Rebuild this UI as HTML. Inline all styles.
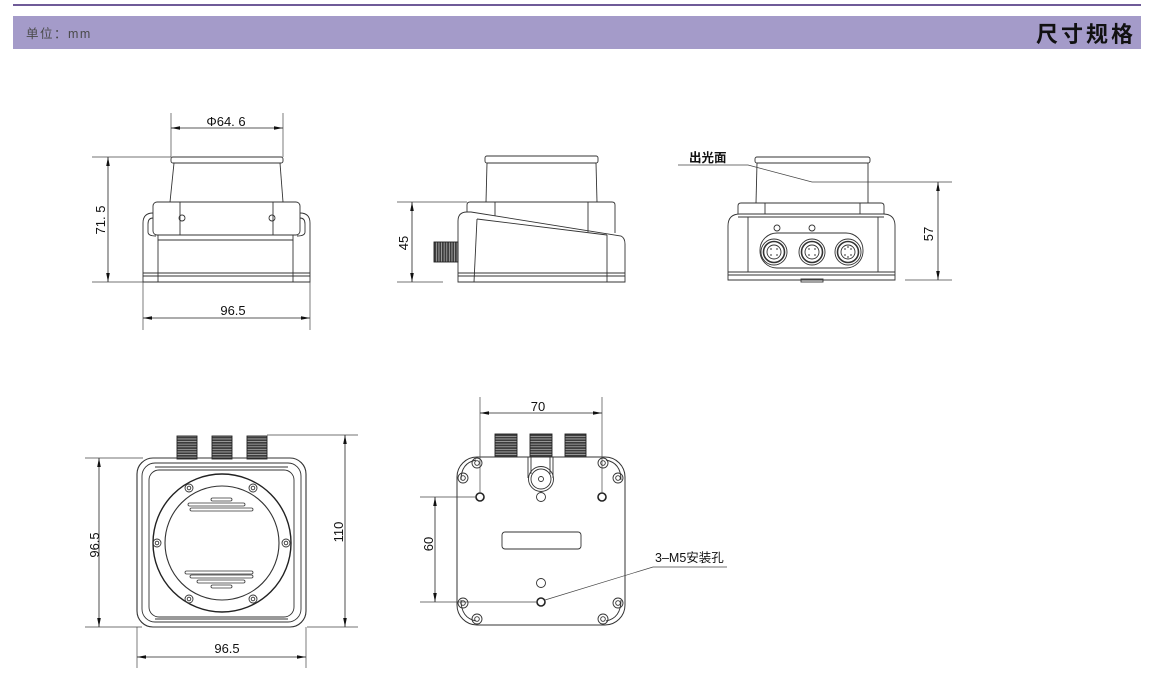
<!DOCTYPE html>
<html><head><meta charset="utf-8"><style>
html,body{margin:0;padding:0;background:#fff;}
svg{display:block;}
text{font-family:"Liberation Sans","Noto Sans CJK SC",sans-serif;}
</style></head><body>
<svg width="1151" height="678" viewBox="0 0 1151 678" xmlns="http://www.w3.org/2000/svg">
<defs>
<marker id="ar" viewBox="0 0 10 4" refX="10" refY="2" markerWidth="9" markerHeight="3.6" markerUnits="userSpaceOnUse" orient="auto-start-reverse">
<path d="M0,0 L10,2 L0,4 Z" fill="#111"/></marker>
<pattern id="thr" patternUnits="userSpaceOnUse" width="4" height="2.6">
<rect width="4" height="2.6" fill="#3c3c3c"/><rect y="1.8" width="4" height="0.7" fill="#bbb"/></pattern>
<pattern id="thrv" patternUnits="userSpaceOnUse" width="2.6" height="4">
<rect width="2.6" height="4" fill="#3c3c3c"/><rect x="1.8" width="0.7" height="4" fill="#bbb"/></pattern>
</defs>
<rect width="1151" height="678" fill="#fff"/>
<!-- header -->
<rect x="13" y="4" width="1128" height="2" fill="#6f5b98"/>
<rect x="13" y="16" width="1128" height="33" fill="#a49bc9"/>
<text x="26" y="38" font-size="12.5" fill="#4a4a4a" letter-spacing="1.5">单位：mm</text>
<text x="1136" y="42" font-size="22" font-weight="bold" fill="#111" text-anchor="end" letter-spacing="3">尺寸规格</text>

<g fill="none" stroke="#333" stroke-width="0.9">
<!-- ===== top-left view ===== -->
<rect x="171" y="157" width="112" height="6" rx="2"/>
<line x1="174" y1="163" x2="170" y2="202"/>
<line x1="280" y1="163" x2="283" y2="202"/>
<rect x="153" y="202" width="147" height="33" rx="4"/>
<line x1="180" y1="202" x2="180" y2="235"/>
<line x1="273" y1="202" x2="273" y2="235"/>
<circle cx="182" cy="218" r="3"/>
<circle cx="272" cy="218" r="3"/>
<path d="M153,213 Q143,213 143,223 V282 H310 V223 Q310,213 300,213"/>
<path d="M153,218 Q148,218 148,224 V232 Q148,236 156,236"/>
<path d="M300,218 Q305,218 305,224 V232 Q305,236 297,236"/>
<path d="M158,235 V240 H293 V235"/>
<line x1="158" y1="240" x2="158" y2="282"/>
<line x1="293" y1="240" x2="293" y2="282"/>
<line x1="143" y1="273" x2="310" y2="273"/>
<line x1="143" y1="276" x2="310" y2="276"/>

<!-- ===== top-middle view ===== -->
<rect x="485" y="156" width="113" height="7" rx="2"/>
<line x1="487" y1="163" x2="486" y2="202"/>
<line x1="596" y1="163" x2="597" y2="202"/>
<path d="M467,212 V205 Q467,202 470,202 H612 Q615,202 615,205 V233"/>
<line x1="495" y1="202" x2="495" y2="216"/>
<line x1="588" y1="202" x2="588" y2="232"/>
<path d="M458,282 V221 Q458,212 467,212 H471 L621,236 Q625,238 625,244 V282 Z"/>
<line x1="477" y1="219" x2="607" y2="235"/>
<line x1="477" y1="219" x2="474" y2="282"/>
<line x1="607" y1="235" x2="607" y2="282"/>
<line x1="458" y1="273" x2="625" y2="273"/>
<line x1="458" y1="276" x2="625" y2="276"/>
<rect x="434" y="242" width="24" height="20" fill="url(#thrv)" stroke="#222"/>

<!-- ===== top-right view ===== -->
<rect x="755" y="157" width="115" height="6" rx="2"/>
<line x1="757" y1="163" x2="756" y2="203"/>
<line x1="868" y1="163" x2="868" y2="203"/>
<path d="M738,214 V206 Q738,203 741,203 H881 Q884,203 884,206 V214"/>
<line x1="765" y1="203" x2="765" y2="214"/>
<line x1="860" y1="203" x2="860" y2="214"/>
<path d="M728,280 V226 Q728,214 740,214 H883 Q895,214 895,226 V280 Z"/>
<line x1="738" y1="217" x2="884" y2="217"/>
<line x1="748" y1="217" x2="748" y2="272"/>
<line x1="878" y1="217" x2="878" y2="272"/>
<circle cx="777" cy="228" r="3"/>
<circle cx="812" cy="228" r="3"/>
<rect x="760" y="233" width="103" height="35" rx="17"/>
<g>
<circle cx="774" cy="252" r="13"/><circle cx="774" cy="252" r="10.5" stroke-width="1.6"/><circle cx="774" cy="252" r="7"/>
<circle cx="812" cy="252" r="13"/><circle cx="812" cy="252" r="10.5" stroke-width="1.6"/><circle cx="812" cy="252" r="7"/>
<circle cx="848" cy="252" r="13"/><circle cx="848" cy="252" r="10.5" stroke-width="1.6"/><circle cx="848" cy="252" r="7"/>
</g>
<g fill="#555" stroke="none">
<circle cx="771" cy="249" r="0.9"/><circle cx="777" cy="249" r="0.9"/><circle cx="771" cy="255" r="0.9"/><circle cx="777" cy="255" r="0.9"/>
<circle cx="809" cy="249" r="0.9"/><circle cx="815" cy="249" r="0.9"/><circle cx="809" cy="255" r="0.9"/><circle cx="815" cy="255" r="0.9"/>
<circle cx="845" cy="249" r="0.9"/><circle cx="851" cy="249" r="0.9"/><circle cx="845" cy="255" r="0.9"/><circle cx="851" cy="255" r="0.9"/><circle cx="848" cy="247" r="0.9"/><circle cx="848" cy="257" r="0.9"/>
</g>
<line x1="728" y1="272" x2="895" y2="272"/>
<line x1="728" y1="275" x2="895" y2="275"/>
<rect x="801" y="279" width="22" height="3"/>

<!-- ===== bottom-left view ===== -->
<rect x="177" y="436" width="20" height="23" fill="url(#thr)" stroke="#222"/>
<rect x="212" y="436" width="20" height="23" fill="url(#thr)" stroke="#222"/>
<rect x="247" y="436" width="20" height="23" fill="url(#thr)" stroke="#222"/>
<rect x="137" y="458" width="169" height="169" rx="16" stroke-width="1.1"/>
<rect x="142" y="463" width="159" height="159" rx="13"/>
<rect x="149" y="470" width="145" height="147" rx="10"/>
<line x1="155" y1="467" x2="288" y2="467"/>
<line x1="155" y1="619" x2="288" y2="619"/>
<circle cx="222" cy="543" r="69" stroke-width="1.4" stroke="#222"/>
<circle cx="222" cy="543" r="57" stroke-width="1.1"/>
<g>
<circle cx="189" cy="488" r="4"/><circle cx="189" cy="488" r="1.8"/>
<circle cx="253" cy="488" r="4"/><circle cx="253" cy="488" r="1.8"/>
<circle cx="157" cy="543" r="4"/><circle cx="157" cy="543" r="1.8"/>
<circle cx="286" cy="543" r="4"/><circle cx="286" cy="543" r="1.8"/>
<circle cx="189" cy="599" r="4"/><circle cx="189" cy="599" r="1.8"/>
<circle cx="253" cy="599" r="4"/><circle cx="253" cy="599" r="1.8"/>
</g>
<g stroke-width="0.8">
<rect x="211" y="498" width="21" height="3" rx="1.5"/>
<rect x="188" y="503" width="57" height="3" rx="1.5"/>
<rect x="190" y="508" width="63" height="3" rx="1.5"/>
<rect x="185" y="571" width="68" height="3" rx="1.5"/>
<rect x="190" y="575" width="63" height="3" rx="1.5"/>
<rect x="197" y="580" width="48" height="3" rx="1.5"/>
<rect x="211" y="585" width="21" height="3" rx="1.5"/>
</g>

<!-- ===== bottom-middle view ===== -->
<rect x="495" y="434" width="22" height="23" fill="url(#thr)" stroke="#222"/>
<rect x="530" y="434" width="22" height="23" fill="url(#thr)" stroke="#222"/>
<rect x="565" y="434" width="21" height="23" fill="url(#thr)" stroke="#222"/>
<rect x="457" y="457" width="168" height="168" rx="20" stroke-width="1"/>
<path d="M461,480 Q461,463 476,460" />
<path d="M621,480 Q621,463 606,460" />
<path d="M461,600 Q461,618 476,621" />
<path d="M621,600 Q621,618 606,621" />
<g>
<circle cx="477" cy="463" r="5"/><circle cx="477" cy="463" r="2.3"/>
<circle cx="463" cy="478" r="5"/><circle cx="463" cy="478" r="2.3"/>
<circle cx="603" cy="463" r="5"/><circle cx="603" cy="463" r="2.3"/>
<circle cx="618" cy="478" r="5"/><circle cx="618" cy="478" r="2.3"/>
<circle cx="463" cy="603" r="5"/><circle cx="463" cy="603" r="2.3"/>
<circle cx="477" cy="619" r="5"/><circle cx="477" cy="619" r="2.3"/>
<circle cx="618" cy="603" r="5"/><circle cx="618" cy="603" r="2.3"/>
<circle cx="603" cy="619" r="5"/><circle cx="603" cy="619" r="2.3"/>
</g>
<g stroke-width="1.6" stroke="#222">
<circle cx="480" cy="497" r="4"/>
<circle cx="602" cy="497" r="4"/>
<circle cx="541" cy="602" r="4"/>
</g>
<circle cx="541" cy="497" r="4.5"/>
<circle cx="541" cy="583" r="4.5"/>
<path d="M528,457 V478 M553,457 V478 M531,457 V474 M550,457 V474"/>
<circle cx="541" cy="479" r="12.5"/>
<circle cx="541" cy="479" r="10"/>
<circle cx="541" cy="479" r="2.5"/>
<rect x="502" y="532" width="79" height="17" rx="3"/>
</g>

<!-- dimension lines -->
<g fill="none" stroke="#444" stroke-width="0.7">
<line x1="171" y1="113" x2="171" y2="157"/>
<line x1="283" y1="113" x2="283" y2="157"/>
<line x1="92" y1="157" x2="171" y2="157"/>
<line x1="92" y1="282" x2="143" y2="282"/>
<line x1="143" y1="282" x2="143" y2="330"/>
<line x1="310" y1="282" x2="310" y2="330"/>
<line x1="397" y1="202" x2="467" y2="202"/>
<line x1="397" y1="282" x2="443" y2="282"/>
<path d="M678,165 H748 L812,182 H952"/>
<line x1="905" y1="280" x2="952" y2="280"/>
<line x1="85" y1="458" x2="143" y2="458"/>
<line x1="85" y1="627" x2="142" y2="627"/>
<line x1="267" y1="435" x2="358" y2="435"/>
<line x1="307" y1="627" x2="358" y2="627"/>
<line x1="137" y1="627" x2="137" y2="668"/>
<line x1="306" y1="627" x2="306" y2="668"/>
<line x1="480" y1="397" x2="480" y2="493"/>
<line x1="602" y1="397" x2="602" y2="493"/>
<line x1="420" y1="497" x2="476" y2="497"/>
<line x1="420" y1="602" x2="537" y2="602"/>
<path d="M727,567 H653 L545,600"/>
</g>
<g fill="none" stroke="#222" stroke-width="0.8" marker-start="url(#ar)" marker-end="url(#ar)">
<line x1="171" y1="128" x2="283" y2="128"/>
<line x1="108" y1="157" x2="108" y2="282"/>
<line x1="143" y1="318" x2="310" y2="318"/>
<line x1="412" y1="202" x2="412" y2="282"/>
<line x1="938" y1="182" x2="938" y2="280"/>
<line x1="99" y1="458" x2="99" y2="627"/>
<line x1="345" y1="435" x2="345" y2="627"/>
<line x1="137" y1="657" x2="306" y2="657"/>
<line x1="480" y1="413" x2="602" y2="413"/>
<line x1="435" y1="497" x2="435" y2="602"/>
</g>

<!-- labels -->
<g font-size="13" fill="#111" text-anchor="middle">
<text x="226" y="126">Φ64. 6</text>
<text x="233" y="315">96.5</text>
<text x="227" y="653">96.5</text>
<text x="538" y="411">70</text>
<text transform="translate(105,220) rotate(-90)">71. 5</text>
<text transform="translate(408,243) rotate(-90)">45</text>
<text transform="translate(933,234) rotate(-90)">57</text>
<text transform="translate(99,545) rotate(-90)">96.5</text>
<text transform="translate(343,532) rotate(-90)">110</text>
<text transform="translate(433,544) rotate(-90)">60</text>
</g>
<text x="689" y="162" font-size="12.5" fill="#111" font-weight="bold">出光面</text>
<text x="655" y="562" font-size="12.5" fill="#111">3–M5安装孔</text>
</svg>
</body></html>
